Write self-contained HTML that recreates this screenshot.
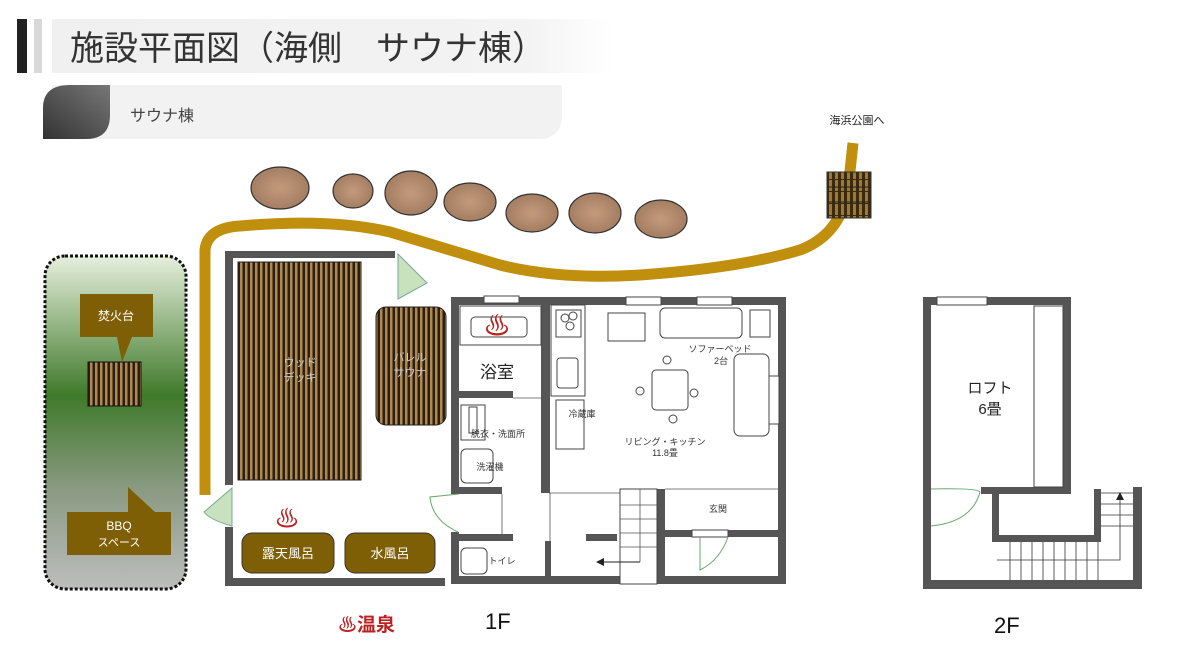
<!DOCTYPE html>
<html><head><meta charset="utf-8"><style>
html,body{margin:0;padding:0;background:#fff;width:1200px;height:656px;overflow:hidden}
svg text{font-family:"Liberation Sans","Noto Sans CJK JP",sans-serif}
</style></head><body>
<svg width="1200" height="656" viewBox="0 0 1200 656" xmlns="http://www.w3.org/2000/svg">
<defs>
<linearGradient id="tb" x1="0" x2="1"><stop offset="0" stop-color="#f0f0f0"/><stop offset="0.85" stop-color="#f3f3f3"/><stop offset="1" stop-color="#fff"/></linearGradient>
<linearGradient id="leaf" x1="0" y1="1" x2="1" y2="0"><stop offset="0" stop-color="#333"/><stop offset="1" stop-color="#777"/></linearGradient>
<linearGradient id="grass" x1="0" y1="0" x2="0" y2="1"><stop offset="0" stop-color="#e6efdc"/><stop offset="0.42" stop-color="#3f7a2a"/><stop offset="0.7" stop-color="#8a9a82"/><stop offset="1" stop-color="#bdbdbd"/></linearGradient>
<pattern id="st" width="5" height="10" patternUnits="userSpaceOnUse"><rect width="5" height="10" fill="#2a1f10"/><rect x="0" width="2.5" height="10" fill="#b08850"/></pattern>
<pattern id="gr" width="6" height="12" patternUnits="userSpaceOnUse"><rect width="6" height="12" fill="#3a2a10"/><rect x="1" width="3" height="11" fill="#a07830"/></pattern>
<radialGradient id="tr"><stop offset="0" stop-color="#c49a7c"/><stop offset="1" stop-color="#a47e62"/></radialGradient>
</defs>
<!-- title -->
<rect x="17" y="19" width="10" height="54" fill="#222"/>
<rect x="34" y="19" width="8" height="54" fill="#d8d8d8"/>
<rect x="52" y="19" width="560" height="54" fill="url(#tb)"/>
<text x="70" y="60" font-size="34" fill="#333">施設平面図（海側　サウナ棟）</text>
<path d="M52 85 H562 V115 Q562 139 538 139 H52 Z" fill="#f2f2f2"/>
<path d="M70 85 H110 V115 Q110 139 86 139 H43 V108 Q43 85 70 85 Z" fill="url(#leaf)"/>
<text x="130" y="121" font-size="16" fill="#444">サウナ棟</text>
<text x="857" y="124" font-size="11" fill="#222" text-anchor="middle">海浜公園へ</text>
<!-- trees -->
<g fill="url(#tr)" stroke="#333" stroke-width="1.2">
<ellipse cx="280" cy="188" rx="29" ry="21"/><ellipse cx="353" cy="191" rx="20" ry="17"/>
<ellipse cx="411" cy="193" rx="26" ry="22"/><ellipse cx="470" cy="202" rx="26" ry="19"/>
<ellipse cx="532" cy="213" rx="26" ry="19"/><ellipse cx="595" cy="213" rx="26" ry="20"/>
<ellipse cx="661" cy="219" rx="26" ry="19"/></g>
<!-- path -->
<path d="M205 495 V250 Q207 228 240 226 Q330 218 390 232 Q450 250 500 265 Q560 280 640 275 Q740 268 800 250 Q840 235 848 190 L853 143" fill="none" stroke="#bf8f0d" stroke-width="11"/>
<rect x="827" y="172" width="44" height="46" fill="url(#gr)" stroke="#333"/>
<line x1="827" y1="187" x2="871" y2="187" stroke="#222"/><line x1="827" y1="202" x2="871" y2="202" stroke="#222"/>
<!-- green area -->
<rect x="45" y="256" width="141" height="333" rx="20" fill="url(#grass)" stroke="#111" stroke-width="3" stroke-dasharray="3 2"/>
<path d="M80 294 H153 V337 H132 L122 362 L117 337 H80 Z" fill="#7f5f05"/>
<text x="116" y="320" font-size="12" fill="#fff" text-anchor="middle">焚火台</text>
<rect x="88" y="362" width="53" height="44" fill="url(#st)" stroke="#111"/>
<path d="M67 512 H128 V487 L155 512 H171 V555 H67 Z" fill="#7f5f05"/>
<text x="119" y="530" font-size="12" fill="#fff" text-anchor="middle" font-family="Liberation Serif,serif">BBQ</text>
<text x="119" y="546" font-size="11" fill="#fff" text-anchor="middle">スペース</text>
<!-- deck area -->
<g fill="#555"><rect x="225" y="251" width="170" height="7"/><rect x="225" y="251" width="8" height="234"/><rect x="225" y="527" width="8" height="58"/><rect x="225" y="578" width="220" height="8"/></g>
<rect x="238" y="262" width="123" height="218" fill="url(#st)" stroke="#222"/>
<text x="300" y="366" font-size="11" fill="#ccc" text-anchor="middle">ウッド</text>
<text x="300" y="381" font-size="11" fill="#ccc" text-anchor="middle">デッキ</text>
<rect x="376" y="307" width="70" height="118" rx="10" fill="url(#st)" stroke="#222"/>
<text x="410" y="361" font-size="11" fill="#ccc" text-anchor="middle">バレル</text>
<text x="410" y="376" font-size="11" fill="#ccc" text-anchor="middle">サウナ</text>
<path d="M398 254 L427 283 L398 299 Z" fill="#c7e2bd" stroke="#7a9" />
<path d="M232 488 L232 526 Q210 520 204 512 Z" fill="#c7e2bd" stroke="#7a9"/>
<rect x="242" y="533" width="92" height="40" rx="10" fill="#7f5f05" stroke="#333"/>
<rect x="345" y="533" width="90" height="40" rx="10" fill="#7f5f05" stroke="#333"/>
<text x="288" y="558" font-size="13" fill="#fff" text-anchor="middle">露天風呂</text>
<text x="390" y="558" font-size="13" fill="#fff" text-anchor="middle">水風呂</text>
<text x="287" y="527" font-size="24" fill="#b22" text-anchor="middle">♨</text>
<!-- 1F -->
<g fill="#555">
<rect x="451" y="297" width="335" height="8"/><rect x="451" y="297" width="8" height="197"/><rect x="778" y="297" width="8" height="287"/>
<rect x="451" y="576" width="335" height="8"/><rect x="451" y="532" width="8" height="52"/>
<rect x="541" y="305" width="9" height="188"/><rect x="459" y="391" width="54" height="7"/>
<rect x="451" y="487" width="51" height="7"/><rect x="451" y="534" width="62" height="7"/>
<rect x="545" y="541" width="6" height="43"/><rect x="586" y="534" width="31" height="7"/>
<rect x="657" y="489" width="8" height="95"/><rect x="665" y="530" width="27" height="7"/><rect x="728" y="530" width="50" height="7"/>
</g>
<g fill="#fff" stroke="#444" stroke-width="1">
<rect x="484" y="296" width="35" height="7"/><rect x="626" y="297" width="35" height="8"/><rect x="697" y="297" width="35" height="8"/>
<rect x="460" y="306" width="81" height="39"/><rect x="471" y="317" width="56" height="20" rx="4"/>
<rect x="551" y="305" width="34" height="91"/><rect x="556" y="310" width="25" height="27"/><rect x="557" y="358" width="21" height="30" rx="3"/>
<rect x="556" y="400" width="28" height="49"/>
<rect x="608" y="313" width="37" height="28"/><rect x="660" y="308" width="82" height="30" rx="5"/><rect x="750" y="310" width="20" height="27"/>
<rect x="652" y="370" width="36" height="40" rx="4"/>
<rect x="734" y="354" width="35" height="82" rx="6"/><rect x="769" y="376" width="10" height="48"/>
<rect x="461" y="405" width="24" height="35"/><rect x="469" y="407" width="8" height="26"/>
<rect x="461" y="449" width="32" height="34" rx="5"/><rect x="461" y="548" width="26" height="26" rx="5"/>
<rect x="620" y="489" width="37" height="95"/><rect x="692" y="530" width="36" height="7"/>
</g>
<g fill="#fff" stroke="#444"><circle cx="565" cy="318" r="4"/><circle cx="573" cy="316" r="4"/><circle cx="570" cy="326" r="4"/>
<circle cx="667" cy="360" r="4"/><circle cx="640" cy="391" r="4"/><circle cx="694" cy="393" r="4"/><circle cx="673" cy="419" r="4"/></g>
<g stroke="#555" stroke-width="0.8"><line x1="620" y1="505" x2="657" y2="505"/><line x1="620" y1="519" x2="657" y2="519"/><line x1="620" y1="533" x2="657" y2="533"/><line x1="620" y1="547" x2="657" y2="547"/><line x1="640" y1="489" x2="640" y2="562"/>
<line x1="665" y1="489" x2="778" y2="489"/><line x1="550" y1="493" x2="550" y2="541"/><line x1="502" y1="494" x2="502" y2="534"/><line x1="513" y1="398" x2="541" y2="398"/><line x1="549" y1="493" x2="620" y2="493"/></g>
<path d="M640 562 H602" stroke="#222" fill="none"/><path d="M596 562 L604 558 V566 Z" fill="#222"/>
<path d="M700 537 V570 Q720 560 728 537" fill="none" stroke="#6a6"/>
<path d="M459 494 L430 497 Q432 520 458 532" fill="none" stroke="#6a6"/>
<text x="497" y="299" font-size="26" fill="#b22" text-anchor="middle" dy="36">♨</text>
<text x="497" y="378" font-size="17" fill="#222" text-anchor="middle">浴室</text>
<g font-size="9" fill="#333" text-anchor="middle">
<text x="498" y="437">脱衣・洗面所</text><text x="490" y="470">洗濯機</text><text x="502" y="564">トイレ</text>
<text x="582" y="417">冷蔵庫</text><text x="720" y="352">ソファーベッド</text><text x="721" y="364">2台</text>
<text x="665" y="445">リビング・キッチン</text><text x="665" y="456">11.8畳</text><text x="718" y="512">玄関</text></g>
<!-- 2F -->
<g fill="#555">
<rect x="923" y="297" width="148" height="8"/><rect x="923" y="297" width="8" height="292"/><rect x="1063" y="297" width="8" height="197"/>
<rect x="981" y="487" width="90" height="7"/><rect x="992" y="487" width="7" height="55"/><rect x="992" y="535" width="109" height="7"/>
<rect x="1094" y="489" width="7" height="51"/><rect x="1133" y="487" width="9" height="102"/><rect x="923" y="580" width="219" height="9"/></g>
<rect x="937" y="297" width="50" height="8" fill="#fff" stroke="#444"/>
<rect x="1034" y="306" width="29" height="181" fill="#fff" stroke="#444"/>
<text x="990" y="393" font-size="15" fill="#222" text-anchor="middle">ロフト</text>
<text x="990" y="414" font-size="15" fill="#222" text-anchor="middle">6畳</text>
<g stroke="#333" stroke-width="0.8">
<line x1="1010" y1="542" x2="1010" y2="580"/><line x1="1021" y1="542" x2="1021" y2="580"/><line x1="1032" y1="542" x2="1032" y2="580"/><line x1="1043" y1="542" x2="1043" y2="580"/><line x1="1054" y1="542" x2="1054" y2="580"/><line x1="1065" y1="542" x2="1065" y2="580"/><line x1="1076" y1="542" x2="1076" y2="580"/><line x1="1087" y1="542" x2="1087" y2="580"/><line x1="1098" y1="542" x2="1098" y2="580"/>
<line x1="1101" y1="493" x2="1133" y2="493"/><line x1="1101" y1="504" x2="1133" y2="504"/><line x1="1101" y1="515" x2="1133" y2="515"/><line x1="1101" y1="526" x2="1133" y2="526"/>
<path d="M997 560 H1120 V499" fill="none"/></g>
<path d="M1120 492 L1116 500 H1124 Z" fill="#222"/>
<path d="M931 489 Q978 488 980 492 Q972 522 931 526" fill="none" stroke="#6a6"/>
<!-- labels -->
<text x="338" y="631" font-size="19" fill="#b22" font-weight="bold">♨温泉</text>
<text x="485" y="629" font-size="22" fill="#111">1F</text>
<text x="994" y="633" font-size="22" fill="#111">2F</text>
</svg>
</body></html>
